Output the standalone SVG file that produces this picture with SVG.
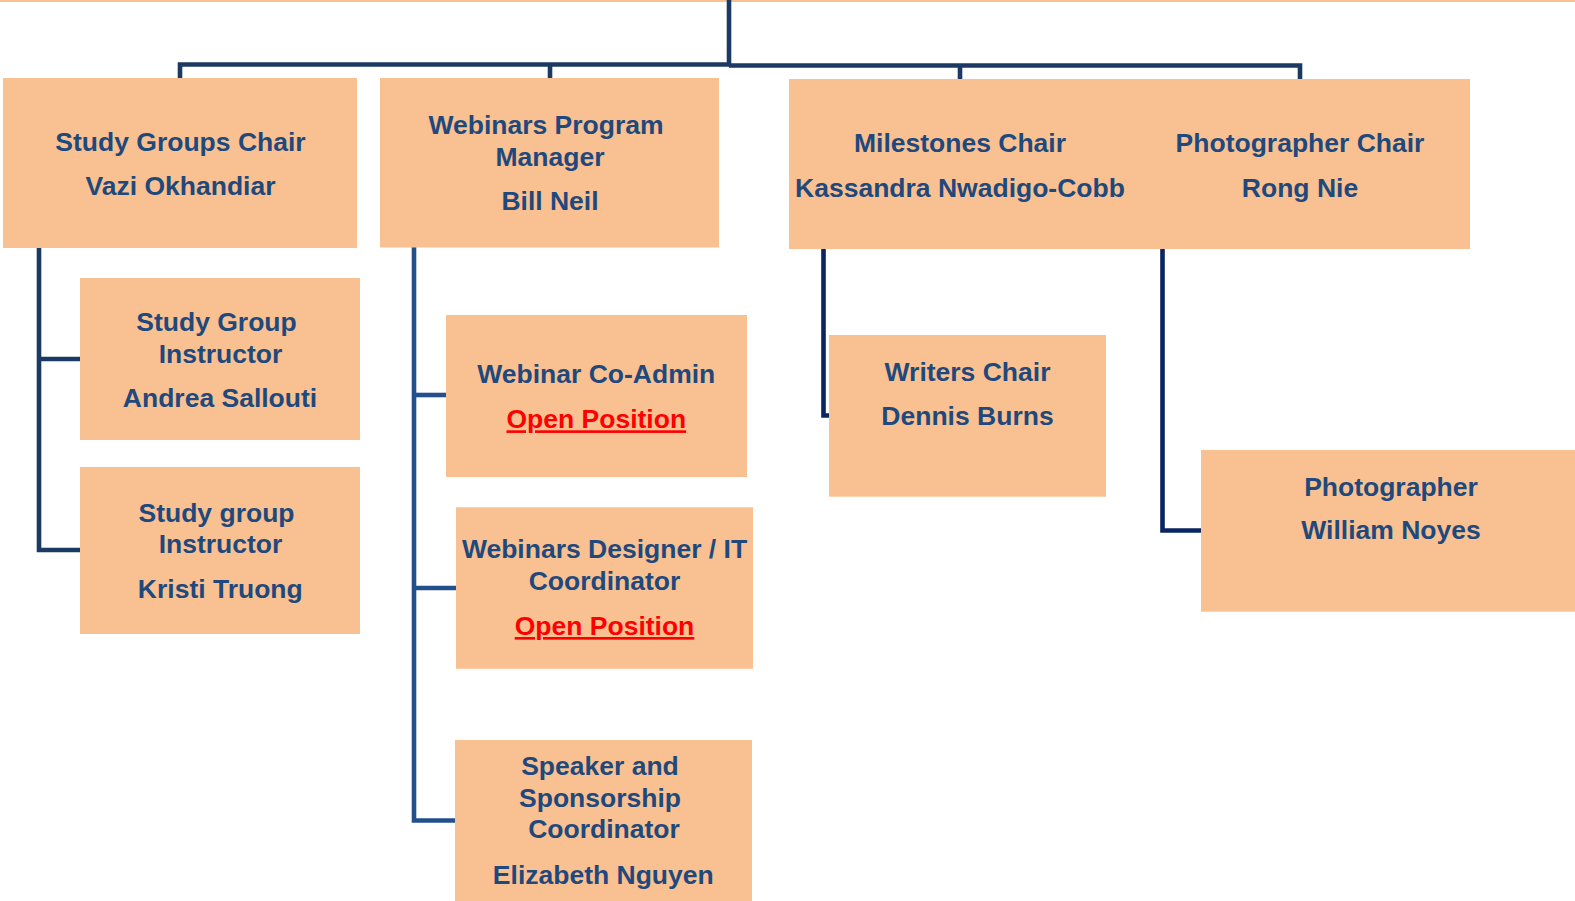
<svg xmlns="http://www.w3.org/2000/svg" width="1575" height="901" viewBox="0 0 1575 901">
<style>
  .box { fill: #F9C191; }
  .t { font-family: "Liberation Sans", Arial, sans-serif; font-weight: bold; font-size: 26.5px; fill: #1F497D; text-anchor: middle; }
  .open { fill: #FF0000; text-decoration: underline; }
  .c1 { fill: none; stroke: #1B3A63; stroke-width: 4.6; stroke-linejoin: miter; stroke-linecap: butt; }
  .c2 { fill: none; stroke: #23508A; stroke-width: 4.6; stroke-linejoin: miter; }
  .c3 { fill: none; stroke: #0B2462; stroke-width: 4.6; stroke-linejoin: miter; }
</style>
<rect x="0" y="0" width="1575" height="901" fill="#FFFFFF"/>
<rect x="0" y="0" width="1575" height="2" fill="#F9C191"/>
<g id="connectors">
  <path class="c1" d="M729 0 V66"/>
  <path class="c1" d="M180 78 V64.5 H729"/>
  <path class="c1" d="M550 78 V64.5"/>
  <path class="c1" d="M729 65.5 H1300 V79"/>
  <path class="c1" d="M960 79 V65.5"/>
  <path class="c1" d="M39 248 V550 H80"/>
  <path class="c1" d="M39 359 H80"/>
  <path class="c2" d="M414 247 V820.5 H455"/>
  <path class="c2" d="M414 395 H446"/>
  <path class="c2" d="M414 588 H456"/>
  <path class="c3" d="M823.5 249 V415.5 H830"/>
  <path class="c3" d="M1162.5 249 V530.5 H1201"/>
</g>
<g id="study-groups-chair">
  <rect class="box" x="3" y="78" width="354" height="170"/>
  <text class="t" x="180.5" y="151">Study Groups Chair</text>
  <text class="t" x="180.5" y="195">Vazi Okhandiar</text>
</g>
<g id="webinars-program-manager">
  <rect class="box" x="380" y="78" width="339" height="169.5"/>
  <text class="t" x="546" y="134">Webinars Program</text>
  <text class="t" x="550" y="166">Manager</text>
  <text class="t" x="550" y="210">Bill Neil</text>
</g>
<g id="milestones-photographer-chair">
  <rect class="box" x="789" y="79" width="681" height="170"/>
  <text class="t" x="960" y="151.7">Milestones Chair</text>
  <text class="t" x="960" y="196.7">Kassandra Nwadigo-Cobb</text>
  <text class="t" x="1300" y="151.7">Photographer Chair</text>
  <text class="t" x="1300" y="196.7">Rong Nie</text>
</g>
<g id="study-group-instructor-1">
  <rect class="box" x="80" y="278" width="280" height="162"/>
  <text class="t" x="216.5" y="331">Study Group</text>
  <text class="t" x="220.5" y="363">Instructor</text>
  <text class="t" x="220" y="406.5">Andrea Sallouti</text>
</g>
<g id="study-group-instructor-2">
  <rect class="box" x="80" y="467" width="280" height="167"/>
  <text class="t" x="216.5" y="521.5">Study group</text>
  <text class="t" x="220.5" y="553.3">Instructor</text>
  <text class="t" x="220.3" y="598.3">Kristi Truong</text>
</g>
<g id="webinar-co-admin">
  <rect class="box" x="446" y="315" width="301" height="162"/>
  <text class="t" x="596.3" y="382.7">Webinar Co-Admin</text>
  <text class="t open" x="596.3" y="428.3">Open Position</text>
</g>
<g id="webinars-designer">
  <rect class="box" x="456" y="507.3" width="297" height="161.5"/>
  <text class="t" x="604.5" y="558.3">Webinars Designer / IT</text>
  <text class="t" x="604.5" y="590">Coordinator</text>
  <text class="t open" x="604.5" y="635">Open Position</text>
</g>
<g id="speaker-sponsorship-coordinator">
  <rect class="box" x="455" y="740" width="297" height="165"/>
  <text class="t" x="600" y="775">Speaker and</text>
  <text class="t" x="600" y="806.7">Sponsorship</text>
  <text class="t" x="604" y="838.3">Coordinator</text>
  <text class="t" x="603.3" y="884.3">Elizabeth Nguyen</text>
</g>
<g id="writers-chair">
  <rect class="box" x="829" y="335" width="277" height="161.7"/>
  <text class="t" x="967.5" y="380.7">Writers Chair</text>
  <text class="t" x="967.5" y="425">Dennis Burns</text>
</g>
<g id="photographer">
  <rect class="box" x="1201" y="450" width="380" height="161.7"/>
  <text class="t" x="1391" y="495.7">Photographer</text>
  <text class="t" x="1391" y="539.3">William Noyes</text>
</g>
</svg>
